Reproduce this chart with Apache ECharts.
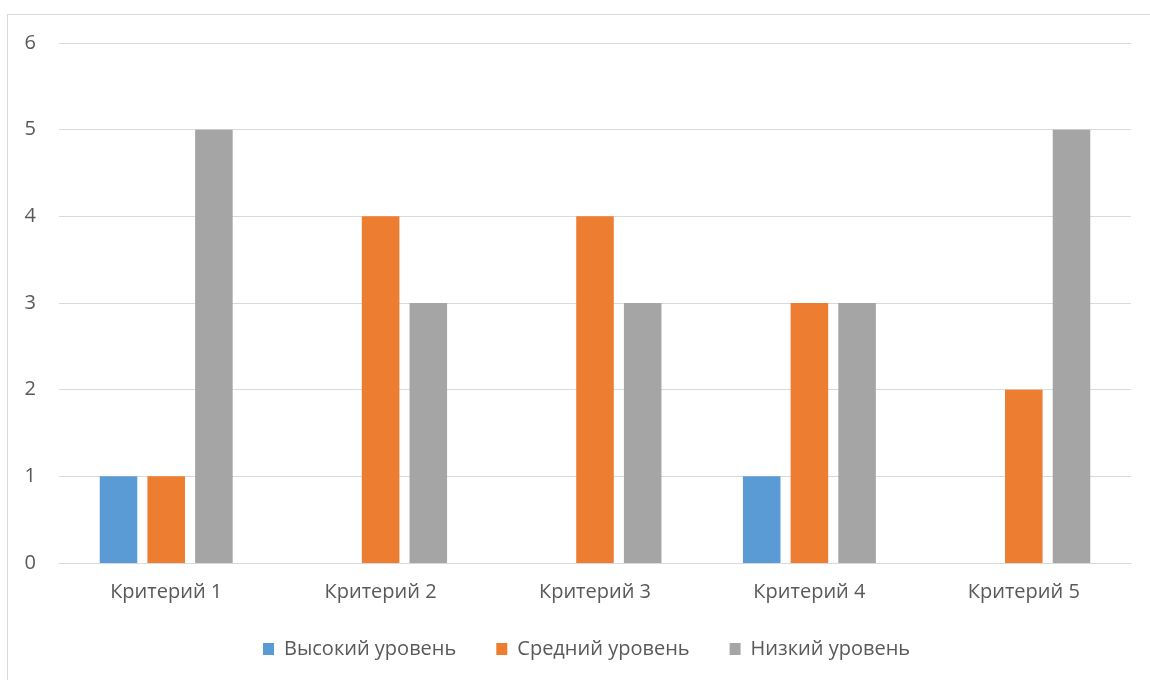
<!DOCTYPE html>
<html>
<head>
<meta charset="utf-8">
<script src="https://cdn.jsdelivr.net/npm/echarts@6/dist/echarts.min.js"></script>
<style>
  html, body { margin: 0; padding: 0; background: #fff; }
  #frame { position: absolute; left: 7px; top: 14px; width: 1160px; height: 700px; border: 1px solid #d9d9d9; box-sizing: border-box; }
  #chart { position: absolute; left: 0; top: 0; width: 1150px; height: 680px; }
</style>
</head>
<body>
<div id="frame"></div>
<div id="chart"></div>
<script>
// Criteria and level counts
const categories = ['Критерий 1', 'Критерий 2', 'Критерий 3', 'Критерий 4', 'Критерий 5'];
const seriesNames = ['Высокий уровень', 'Средний уровень', 'Низкий уровень'];
const highLevel = [1, 0, 0, 1, 0];
const midLevel = [1, 4, 4, 3, 2];
const lowLevel = [5, 3, 3, 3, 5];
const yTicks = [0, 1, 2, 3, 4, 5, 6];

const colors = ['#5b9bd5', '#ed7d31', '#a5a5a5'];
const textColor = '#595959';
const fontFamily = '"Open Sans", "Noto Sans", sans-serif';

const chart = echarts.init(document.getElementById('chart'), null, { renderer: 'canvas' });

function bar(name, data, color) {
  return {
    name: name,
    type: 'bar',
    data: data,
    barGap: '27%',
    barCategoryGap: '38%',
    itemStyle: { color: color },
    emphasis: { disabled: true }
  };
}

chart.setOption({
  animation: false,
  color: colors,
  textStyle: { fontFamily: fontFamily },
  grid: { left: 59, right: 19, top: 43, bottom: 117, containLabel: false },
  legend: {
    top: 634,
    left: 258,
    itemWidth: 11,
    itemHeight: 12,
    itemGap: 40,
    icon: 'rect',
    data: seriesNames,
    textStyle: { color: textColor, fontSize: 20, fontFamily: fontFamily, padding: [0, 0, 0, 5] }
  },
  xAxis: {
    type: 'category',
    data: categories,
    axisLine: { show: true, lineStyle: { color: '#d9d9d9', width: 1 } },
    axisTick: { show: false },
    axisLabel: { color: textColor, fontSize: 20, margin: 19 }
  },
  yAxis: {
    type: 'value',
    min: yTicks[0],
    max: yTicks[yTicks.length - 1],
    interval: 1,
    axisLine: { show: false },
    axisTick: { show: false },
    axisLabel: { color: textColor, fontSize: 20, margin: 23 },
    splitLine: { lineStyle: { color: '#d9d9d9', width: 1 } }
  },
  series: [
    bar(seriesNames[0], highLevel, colors[0]),
    bar(seriesNames[1], midLevel, colors[1]),
    bar(seriesNames[2], lowLevel, colors[2])
  ]
});
</script>
</body>
</html>
